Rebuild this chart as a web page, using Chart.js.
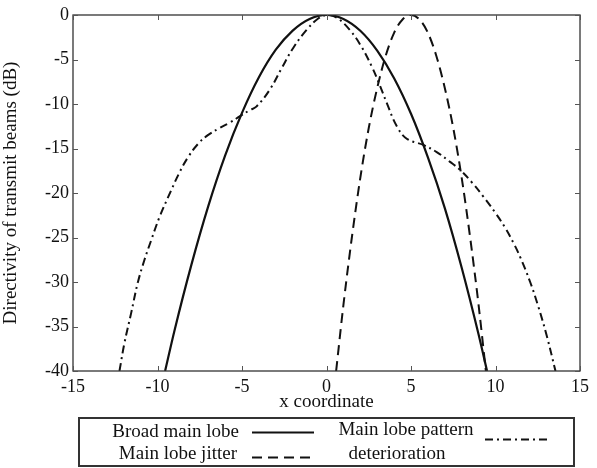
<!DOCTYPE html>
<html><head><meta charset="utf-8">
<script src="https://cdn.jsdelivr.net/npm/chart.js@4/dist/chart.umd.min.js"></script>
<style>html,body{margin:0;padding:0;background:#fff;}</style>
</head><body>
<canvas id="c" width="597" height="468"></canvas>
<script>
// ---- data ----
const xTickValues = [-15, -10, -5, 0, 5, 10, 15];
const yTickValues = [0, -5, -10, -15, -20, -25, -30, -35, -40];

const broadX = [-9.55, -9, -8, -7, -6, -5, -4, -3, -2, -1, 0, 1, 2, 3, 4, 5, 6, 7, 8, 9, 9.5];
const broadY = [-40, -35.5, -28.1, -21.5, -15.8, -11.0, -7.0, -3.9, -1.75, -0.44, 0, -0.44, -1.77, -4.0, -7.1, -11.1, -16.0, -21.7, -28.4, -35.9, -40];

const jitterX = [0.57, 1, 1.5, 2, 2.5, 3, 3.5, 4, 4.5, 5, 5.5, 6, 6.5, 7, 7.5, 8, 8.5, 9, 9.43];
const jitterY = [-40, -32.6, -25.0, -18.3, -12.7, -8.2, -4.6, -2.0, -0.5, 0, -0.5, -2.0, -4.6, -8.2, -12.7, -18.3, -25.0, -32.6, -40];

const deterX = [-12.25, -11.96, -11.56, -11.17, -10.77, -10.37, -9.88, -9.19, -8.70, -8.20, -7.61, -7.02, -6.32, -5.73, -5.14, -4.55, -4.15, -3.36, -2.66, -1.97, -1.19, -0.49, 0, 0.6, 1.39, 2.08, 2.68, 3.07, 3.57, 4.16, 4.75, 5.73, 6.52, 7.31, 7.90, 8.6, 9.28, 9.98, 10.57, 11.06, 11.46, 12.05, 12.54, 13.04, 13.55];
const deterY = [-40, -36.9, -33.5, -30.1, -27.5, -25.3, -22.7, -19.7, -17.7, -16.0, -14.5, -13.5, -12.7, -12.1, -11.4, -10.7, -10.3, -8.4, -6.0, -3.7, -1.7, -0.4, 0, -0.3, -1.7, -3.6, -5.8, -7.5, -9.9, -12.5, -13.9, -14.6, -15.4, -16.5, -17.4, -18.8, -20.4, -22.2, -23.9, -25.6, -27.2, -30.0, -32.8, -36.1, -40];

const seriesLabels = ['Broad main lobe', 'Main lobe jitter', 'Main lobe pattern deterioration'];
const xTitle = 'x coordinate';
const yTitle = 'Directivity of transmit beams (dB)';

// ---- build ----
const pts = (xs, ys) => xs.map((v, i) => ({x: v, y: ys[i]}));
const FONT = 'Liberation Serif, Times New Roman, serif';
const INK = '#111';

const framePlugin = {
  id: 'frame',
  afterDatasetsDraw(chart) {
    const {ctx, chartArea: a, scales: {x, y}} = chart;
    ctx.save();
    ctx.strokeStyle = '#333';
    ctx.lineWidth = 1.3;
    ctx.strokeRect(a.left, a.top, a.right - a.left, a.bottom - a.top);
    ctx.lineWidth = 1;
    ctx.strokeStyle = '#555';
    const L = 5;
    ctx.beginPath();
    xTickValues.forEach(v => {
      const px = Math.round(x.getPixelForValue(v)) + 0.5;
      ctx.moveTo(px, a.bottom); ctx.lineTo(px, a.bottom - L);
      ctx.moveTo(px, a.top); ctx.lineTo(px, a.top + L);
    });
    yTickValues.forEach(v => {
      const py = Math.round(y.getPixelForValue(v)) + 0.5;
      ctx.moveTo(a.left, py); ctx.lineTo(a.left + L, py);
      ctx.moveTo(a.right, py); ctx.lineTo(a.right - L, py);
    });
    ctx.stroke();
    ctx.restore();
  }
};

const legendPlugin = {
  id: 'boxLegend',
  afterDraw(chart) {
    const {ctx} = chart;
    const ds = chart.data.datasets;
    ctx.save();
    ctx.strokeStyle = '#333';
    ctx.lineWidth = 2;
    ctx.strokeRect(79, 418, 495, 48);
    ctx.fillStyle = INK;
    ctx.font = '19px ' + FONT;
    ctx.textBaseline = 'middle';
    ctx.textAlign = 'right';
    ctx.fillText(ds[0].label, 239, 432);
    ctx.fillText(ds[1].label, 237, 454);
    const sample = (d, x0, x1, yy) => {
      ctx.save();
      ctx.strokeStyle = d.borderColor;
      ctx.lineWidth = d.borderWidth;
      ctx.setLineDash(d.borderDash || []);
      ctx.beginPath(); ctx.moveTo(x0, yy); ctx.lineTo(x1, yy); ctx.stroke();
      ctx.restore();
    };
    sample(ds[0], 252, 314, 432.5);
    sample(ds[1], 252, 314, 457.5);
    const words = ds[2].label.split(' ');
    ctx.textAlign = 'center';
    ctx.fillText(words.slice(0, 3).join(' '), 406, 430);
    ctx.fillText(words.slice(3).join(' '), 397, 454);
    sample(ds[2], 485, 550, 439.5);
    ctx.restore();
  }
};

new Chart(document.getElementById('c'), {
  type: 'line',
  data: {
    datasets: [
      {label: seriesLabels[0], data: pts(broadX, broadY), borderColor: INK, borderWidth: 2.2, borderDash: [], pointRadius: 0, cubicInterpolationMode: 'monotone', fill: false},
      {label: seriesLabels[1], data: pts(jitterX, jitterY), borderColor: INK, borderWidth: 2, borderDash: [10, 6], pointRadius: 0, cubicInterpolationMode: 'monotone', fill: false},
      {label: seriesLabels[2], data: pts(deterX, deterY), borderColor: INK, borderWidth: 2, borderDash: [8, 4, 2, 4], pointRadius: 0, tension: 0.4, fill: false}
    ]
  },
  options: {
    responsive: false,
    animation: false,
    devicePixelRatio: 1,
    layout: {padding: {left: 0, right: 17, top: 15, bottom: 55}},
    plugins: {legend: {display: false}, tooltip: {enabled: false}},
    scales: {
      x: {
        type: 'linear', min: -15, max: 15,
        afterBuildTicks: s => { s.ticks = xTickValues.map(v => ({value: v})); },
        afterFit: s => { s.height = 42; },
        grid: {display: false, drawTicks: false},
        border: {display: false},
        ticks: {color: INK, font: {family: FONT, size: 18}, padding: 5, maxRotation: 0, autoSkip: false},
        title: {display: true, text: xTitle, color: INK, font: {family: FONT, size: 19}, padding: {top: -4, bottom: 0}}
      },
      y: {
        type: 'linear', min: -40, max: 0,
        afterBuildTicks: s => { s.ticks = yTickValues.map(v => ({value: v})); },
        afterFit: s => { s.width = 73; },
        grid: {display: false, drawTicks: false},
        border: {display: false},
        ticks: {color: INK, font: {family: FONT, size: 18}, padding: 4, autoSkip: false},
        title: {display: true, text: yTitle, color: INK, font: {family: FONT, size: 19}, padding: {top: 0, bottom: 2}}
      }
    }
  },
  plugins: [framePlugin, legendPlugin]
});
</script>
</body></html>
